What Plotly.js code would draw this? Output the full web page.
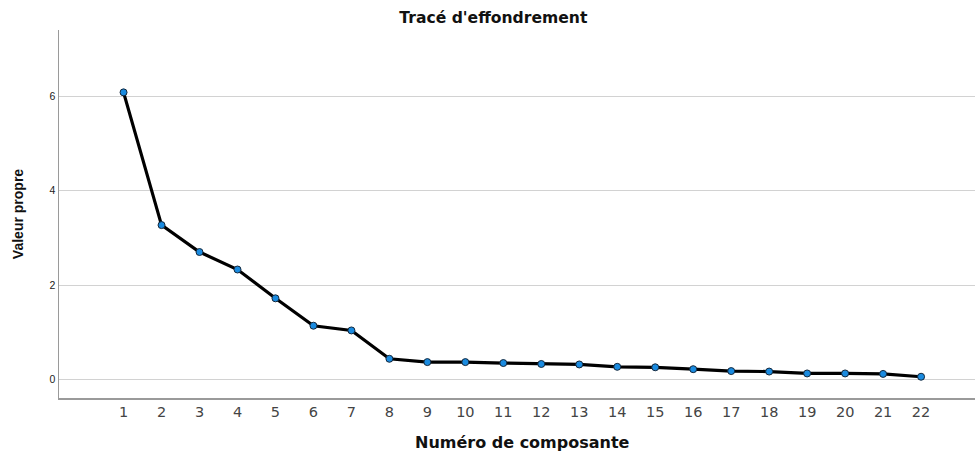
<!DOCTYPE html>
<html>
<head>
<meta charset="utf-8">
<script src="https://cdn.plot.ly/plotly-3.0.1.min.js"></script>
<style>html,body{margin:0;padding:0;background:#fff}#chart{width:975px;height:453px}</style>
</head>
<body>
<div id="chart"></div>
<script>
const components = [1,2,3,4,5,6,7,8,9,10,11,12,13,14,15,16,17,18,19,20,21,22];
const eigenvalues = [6.08,3.27,2.70,2.33,1.72,1.14,1.04,0.44,0.37,0.37,0.35,0.33,0.32,0.27,0.26,0.22,0.18,0.17,0.13,0.13,0.12,0.06];
const tickLabels = components.map(String);
const yTicks = [0,2,4,6];

const trace = {
  x: components, y: eigenvalues, type: 'scatter', mode: 'lines+markers',
  line: {color: '#000000', width: 3.2},
  marker: {color: '#1a8be0', size: 7, line: {color: '#14283c', width: 1}},
  hoverinfo: 'skip'
};

const layout = {
  width: 975, height: 453,
  margin: {l: 59, r: 0, t: 30, b: 55},
  paper_bgcolor: '#ffffff', plot_bgcolor: '#ffffff',
  showlegend: false,
  font: {family: 'DejaVu Sans, Liberation Sans, Arial, sans-serif', color: '#000'},
  title: {text: "<b>Tracé d'effondrement</b>", font: {family: 'DejaVu Sans, sans-serif', size: 15.6, color: '#111'}, x: 0.506, xanchor: 'center', y: 0.962, yanchor: 'middle'},
  xaxis: {
    range: [-0.7, 23.42], tickvals: components, ticktext: tickLabels,
    tickfont: {family: 'DejaVu Sans, sans-serif', size: 14.5, color: '#444'}, ticks: '', showgrid: false, zeroline: false,
    showline: true, linecolor: '#9a9a9a', linewidth: 1.5
  },
  yaxis: {
    range: [-0.39, 7.4], tickvals: yTicks, ticktext: yTicks.map(String),
    tickfont: {family: 'Liberation Sans, Arial, sans-serif', size: 10.5, color: '#222'}, ticks: '', ticklen: 0,
    showgrid: true, gridcolor: '#d2d2d2', gridwidth: 1, zeroline: false,
    showline: true, linecolor: '#9a9a9a', linewidth: 1.5,
    title: {text: '<b>Valeur propre</b>', font: {family: 'Liberation Sans Narrow, Liberation Sans, Arial, sans-serif', size: 14, color: '#111'}, standoff: 22}
  },
  annotations: [{
    text: '<b>Numéro de composante</b>', xref: 'paper', yref: 'paper',
    x: 0.5055, y: -0.122, xanchor: 'center', yanchor: 'middle', showarrow: false,
    font: {family: 'DejaVu Sans, sans-serif', size: 16, color: '#111'}
  }]
};

Plotly.newPlot('chart', [trace], layout, {displayModeBar: false, staticPlot: true});
</script>
</body>
</html>
